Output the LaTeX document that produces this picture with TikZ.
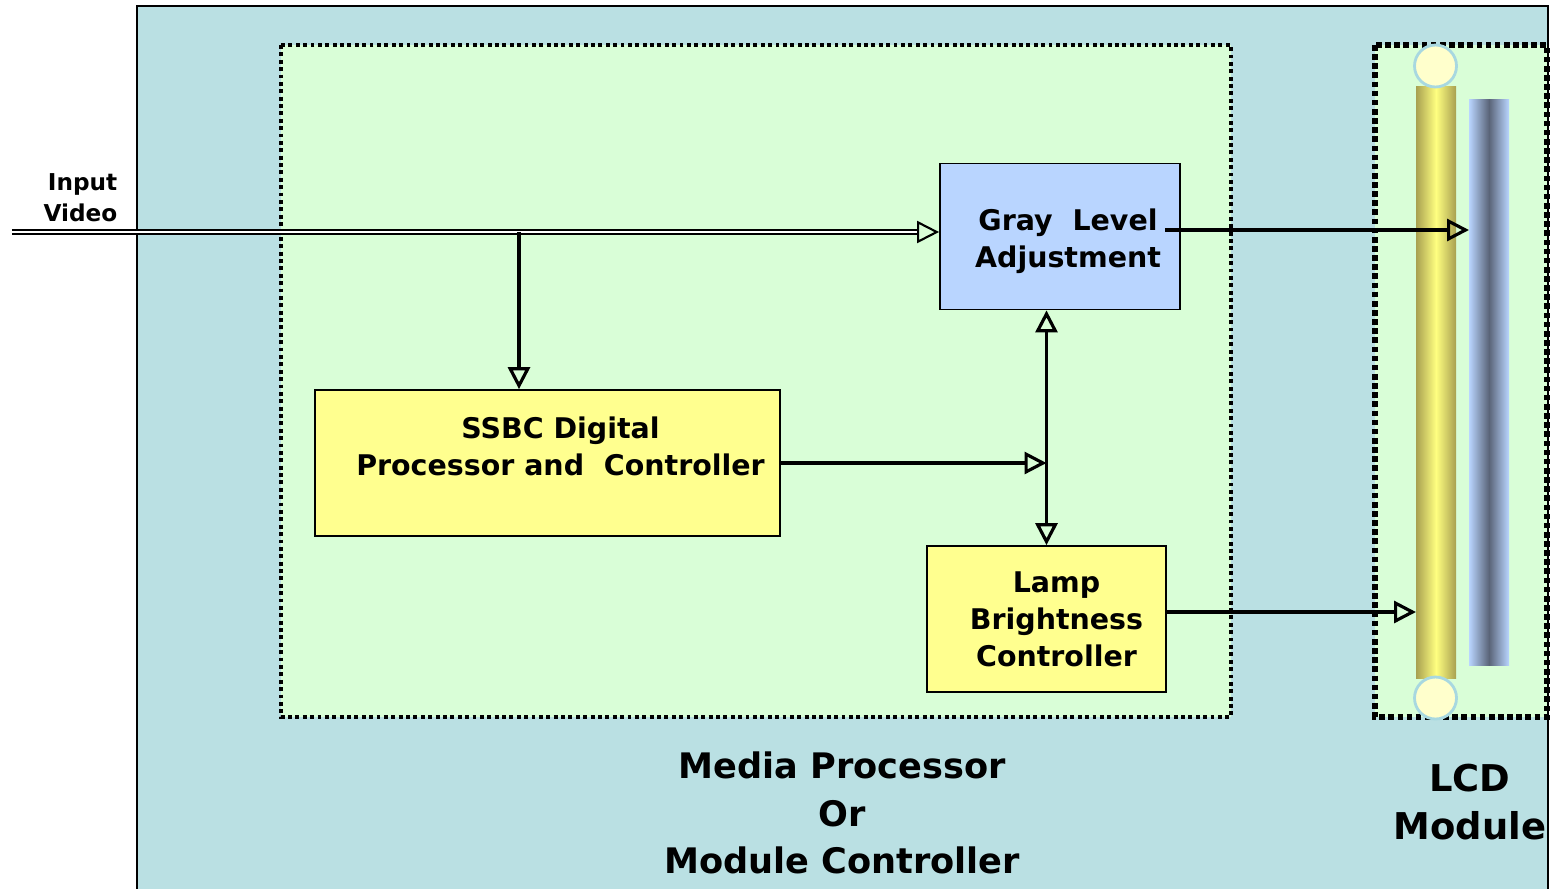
\documentclass[tikz,border=0pt]{standalone}
\usepackage{fontspec}
\setmainfont{DejaVu Sans}
\usetikzlibrary{arrows.meta}
\definecolor{outerbg}{HTML}{BAE0E3}
\definecolor{innerbg}{HTML}{D9FED7}
\definecolor{graybox}{HTML}{B9D5FF}
\definecolor{yellowbox}{HTML}{FFFF8F}
\definecolor{tubeedge}{HTML}{A8A050}
\definecolor{tubemid}{HTML}{FFFF80}
\definecolor{barmid}{HTML}{5A6478}
\definecolor{capfill}{HTML}{FFFFCC}
\definecolor{caprim}{HTML}{A8D8E0}
\tikzset{
  block/.style={draw,line width=0.5pt,minimum height=1.46cm},
  blocktext/.style={align=center,font=\bfseries\fontsize{8.1}{10.5}\selectfont},
  opentip/.tip={Triangle[open,length=2.2mm,width=2.2mm]},
  link/.style={line width=0.9pt,-opentip},
  lampcap/.style={circle,draw=caprim,fill=capfill,line width=0.8pt,minimum size=0.42cm,inner sep=0pt}
}
\begin{document}
\begin{tikzpicture}
\useasboundingbox (0,0) rectangle (15.5,-8.88);
\begin{scope}
\clip (0,0) rectangle (15.5,-8.88);
\draw[fill=outerbg,line width=0.7pt] (1.37,-0.06) rectangle (15.48,-9.2);
\end{scope}
\draw[fill=innerbg,densely dotted,line width=1.1pt] (2.81,-0.45) rectangle (12.31,-7.17);
\draw[fill=innerbg,densely dotted,line width=1.6pt] (13.75,-0.45) rectangle (15.47,-7.17);

\node[block,fill=graybox,minimum width=2.4cm,
  label={[blocktext,xshift=0.08cm,yshift=-0.05cm]center:Gray~~Level\\Adjustment}] (gray) at (10.6,-2.365) {};
\node[block,fill=yellowbox,minimum width=4.65cm,
  label={[blocktext,xshift=0.13cm,yshift=0.17cm]center:SSBC Digital\\Processor and~~Controller}] (ssbc) at (5.475,-4.63) {};
\node[block,fill=yellowbox,minimum width=2.39cm,
  label={[blocktext,xshift=0.1cm]center:Lamp\\Brightness\\Controller}] (lamp) at (10.465,-6.19) {};

\shade[left color=tubeedge,right color=tubeedge,middle color=tubemid] (14.16,-0.86) rectangle (14.56,-6.78);
\coordinate (tube) at (14.16,-3.8);
\shade[left color=graybox,right color=graybox,middle color=barmid] (14.69,-0.99) rectangle (15.09,-6.65);
\coordinate (bar) at (14.69,-3.8);
\node[lampcap] (captop) at (14.355,-0.66) {};
\node[lampcap] (capbot) at (14.355,-6.98) {};

\coordinate (in) at (0.12,-2.32);
\coordinate (split) at (5.19,-2.32);
\coordinate (out) at (11.65,-2.30);
\draw[link,double,double distance=0.5pt,line width=0.6pt] (in) -- (in -| gray.west);
\draw[link] (split) -- (split |- ssbc.north);
\draw[link] (out) -- (out -| bar);
\draw[link] (ssbc.east) -- (ssbc.east -| lamp.north);
\draw[link,opentip-opentip] (lamp.north) -- (lamp.north |- gray.south);
\draw[link] ([yshift=0.07cm]lamp.east) -- ([yshift=0.07cm]lamp.east -| tube);

\node[align=right,anchor=east,inner sep=0pt,font=\bfseries\fontsize{6.6}{8.8}\selectfont] (input) at (1.18,-1.98) {Input\\Video};
\node[align=center,font=\bfseries\fontsize{10}{13.6}\selectfont] (media) at (8.42,-8.13) {Media Processor\\Or\\Module Controller};
\node[align=center,font=\bfseries\fontsize{10.5}{13.6}\selectfont] (lcd) at (14.7,-8.02) {LCD\\Module};
\end{tikzpicture}
\end{document}
